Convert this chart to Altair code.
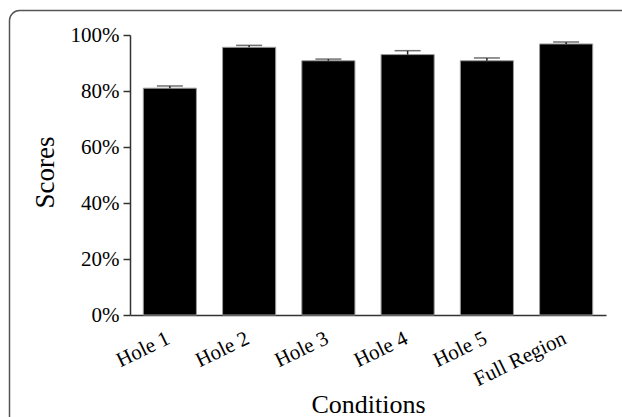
import altair as alt
import pandas as pd

categories = ["Hole 1", "Hole 2", "Hole 3", "Hole 4", "Hole 5", "Full Region"]
means = [0.810, 0.956, 0.908, 0.930, 0.908, 0.968]
uppers = [0.818, 0.963, 0.914, 0.944, 0.918, 0.975]

df = pd.DataFrame({"cond": categories, "score": means, "upper": uppers})

FONT = "Liberation Serif"

x_enc = alt.X(
    "cond:N",
    sort=categories,
    scale=alt.Scale(paddingInner=0.33, paddingOuter=0.168),
    axis=alt.Axis(
        title="Conditions",
        titleFont=FONT, titleFontSize=26, titleFontWeight="normal", titleColor="black",
        titleX=238, titleY=97, titleBaseline="alphabetic", titleAlign="center",
        labelFont=FONT, labelFontSize=21, labelColor="black",
        labelAngle=-26, labelAlign="right", labelBaseline="top", labelPadding=12,
        labelOffset=-6,
        ticks=False, domainColor="#333", domainWidth=1.5,
    ),
)

y_enc = alt.Y(
    "score:Q",
    scale=alt.Scale(domain=[0, 1], nice=False, zero=True),
    axis=alt.Axis(
        title="Scores",
        titleFont=FONT, titleFontSize=27, titleFontWeight="normal", titleColor="black",
        titleAngle=-90, titleX=-77, titleY=137, titleBaseline="alphabetic", titleAlign="center",
        values=[i / 10 for i in range(11)],
        labelExpr="round(datum.value*100) % 20 == 0 ? format(datum.value, '.0%') : ''",
        labelFont=FONT, labelFontSize=21, labelColor="black", labelPadding=4,
        tickSize=7, tickColor="#333", tickWidth=1.5,
        domainColor="#333", domainWidth=1.5, grid=False,
    ),
)

base = alt.Chart(df)

bars = base.mark_bar(color="black", stroke="#999", strokeWidth=1).encode(x=x_enc, y=y_enc)

whisker = base.mark_rule(color="#222", strokeWidth=1.5).encode(
    x=alt.X("cond:N", sort=categories), y="score:Q", y2="upper:Q"
)

caps = base.mark_tick(color="#333", size=26, thickness=1.5, orient="horizontal").encode(
    x=alt.X("cond:N", sort=categories), y="upper:Q"
)

frame = alt.Chart(alt.Data(values=[{"a": 1}])).mark_rect(
    fill=None, stroke="#555", strokeWidth=1.5, cornerRadius=10
).encode(
    x=alt.value(-120.5), x2=alt.value(520), y=alt.value(-24.5), y2=alt.value(410)
)

chart = alt.layer(frame, bars, whisker, caps).properties(
    width=476, height=280,
    autosize=alt.AutoSizeParams(type="none"),
    padding={"left": 130, "top": 35, "right": 16, "bottom": 102},
    background="white",
).configure_view(stroke=None)

chart.save("out.html", embed_options={"renderer": "svg", "actions": False})
